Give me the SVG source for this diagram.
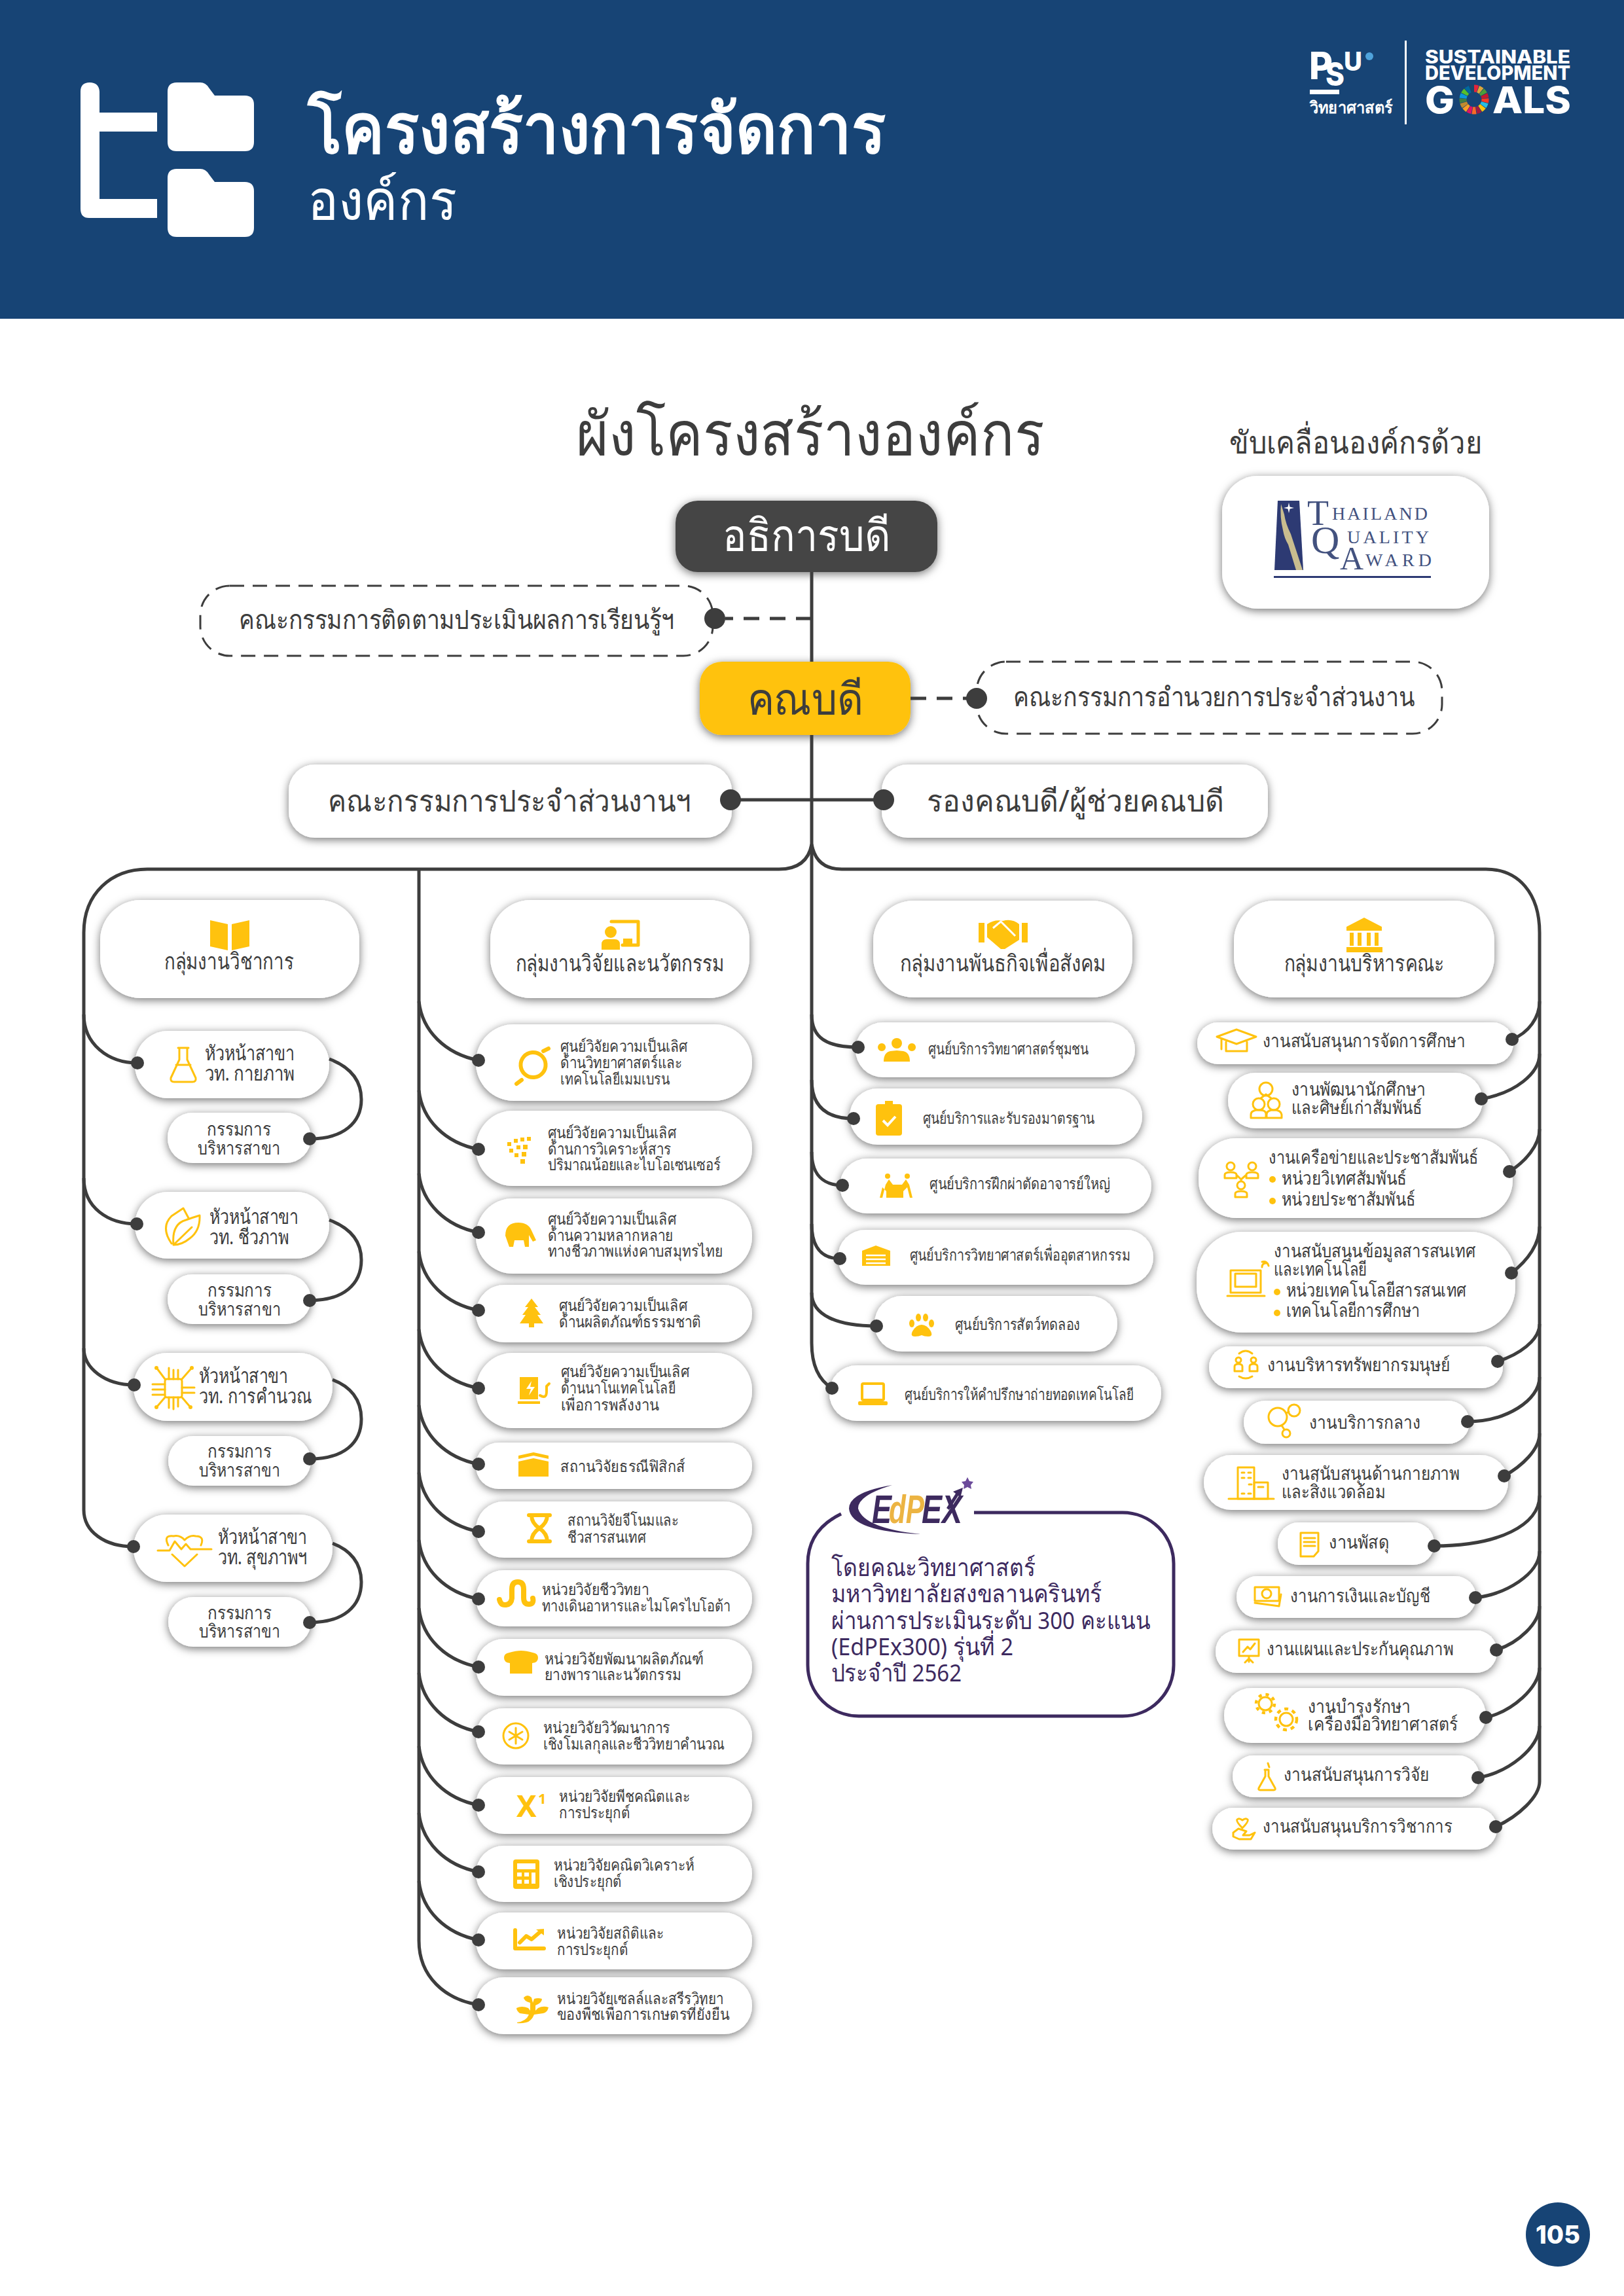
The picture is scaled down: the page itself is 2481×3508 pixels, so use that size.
<svg xmlns="http://www.w3.org/2000/svg" width="2481" height="3508" viewBox="0 0 2481 3508">
<style>
text{font-family:"Noto Sans","Liberation Sans",sans-serif;fill:#3d3d3d}
.c{text-anchor:middle}
.b{font-weight:700}
.k{font-family:Inter,"Noto Sans",sans-serif;font-weight:800;fill:#fff}
.w{fill:#fff}
.n{fill:#fff;filter:url(#sh)}
.y{fill:#FFC20E}
.yl{fill:none;stroke:#FFC20E;stroke-width:3;stroke-linejoin:round;stroke-linecap:round}
.s24{font-size:24px}
.s27{font-size:28px}
.s30{font-size:31px}
.s34{font-size:35px}
.s37{font-size:37px;fill:#3d2a5f}
.q{font-family:"Liberation Serif",serif;fill:#43527f}
.ep{font-family:"Liberation Sans",sans-serif;font-weight:700;font-style:italic;font-size:62px}
.ln{fill:none;stroke:#3d3d3d;stroke-width:5}
.dl{fill:none;stroke:#3d3d3d;stroke-width:5;stroke-dasharray:24 16}
.d{fill:#3d3d3d}
.p{fill:#3d2a5f}
</style>
<defs>
<filter id="sh" x="-15%" y="-30%" width="130%" height="160%"><feDropShadow dx="0" dy="3" stdDeviation="7" flood-color="#000" flood-opacity=".55"/></filter>
</defs>
<rect width="2481" height="3508" fill="#fff"/>
<g id="header">
<rect width="2481" height="487" fill="#174475"/>
<path class="w" d="M123 140q0-14 14-14t15 14v32h88v29h-88v103h88v29h-104q-13 0-13-14z"/>
<path class="w" d="M256 140q0-14 14-14h36q8 0 13 8l9 12h46q14 0 14 14v57q0 14-14 14h-104q-14 0-14-14z"/>
<path class="w" d="M256 272q0-14 14-14h36q8 0 13 8l9 12h46q14 0 14 14v56q0 14-14 14h-104q-14 0-14-14z"/>
<text class="w b" x="470" y="233" font-size="104" textLength="883" lengthAdjust="spacingAndGlyphs">โครงสร้างการจัดการ</text>
<text class="w" x="470" y="335" font-size="82" textLength="228" lengthAdjust="spacingAndGlyphs">องค์กร</text>
<text class="k" x="2000" y="121" font-size="58" textLength="36" lengthAdjust="spacingAndGlyphs">P</text>
<text class="k" x="2025" y="131" font-size="50" textLength="29" lengthAdjust="spacingAndGlyphs">S</text>
<text class="k" x="2053" y="108" font-size="39" textLength="28" lengthAdjust="spacingAndGlyphs">U</text>
<circle cx="2092" cy="86" r="6" fill="#4fa3dc"/>
<rect class="w" x="2001" y="137" width="45" height="7"/>
<text class="w b" x="2001" y="173" font-size="25" textLength="126" lengthAdjust="spacingAndGlyphs">วิทยาศาสตร์</text>
<rect class="w" x="2146" y="62" width="3" height="128"/>
<text class="k" x="2177" y="97" font-size="28" textLength="222" lengthAdjust="spacingAndGlyphs">SUSTAINABLE</text>
<text class="k" x="2177" y="122" font-size="30" textLength="222" lengthAdjust="spacingAndGlyphs">DEVELOPMENT</text>
<text class="k" x="2177" y="173" font-size="57" textLength="45" lengthAdjust="spacingAndGlyphs">G</text>
<text class="k" x="2280" y="173" font-size="57" textLength="120" lengthAdjust="spacingAndGlyphs">ALS</text>
<g id="sdg-wheel" fill="none" stroke-width="11" stroke-dasharray="5.6 101.2" transform="rotate(-90 2252 152)">
<circle cx="2252" cy="152" r="17" stroke="#e5243b"/>
<circle cx="2252" cy="152" r="17" stroke="#dda63a" stroke-dashoffset="-6.28"/>
<circle cx="2252" cy="152" r="17" stroke="#4c9f38" stroke-dashoffset="-12.56"/>
<circle cx="2252" cy="152" r="17" stroke="#c5192d" stroke-dashoffset="-18.84"/>
<circle cx="2252" cy="152" r="17" stroke="#ff3a21" stroke-dashoffset="-25.12"/>
<circle cx="2252" cy="152" r="17" stroke="#26bde2" stroke-dashoffset="-31.4"/>
<circle cx="2252" cy="152" r="17" stroke="#fcc30b" stroke-dashoffset="-37.68"/>
<circle cx="2252" cy="152" r="17" stroke="#a21942" stroke-dashoffset="-43.96"/>
<circle cx="2252" cy="152" r="17" stroke="#fd6925" stroke-dashoffset="-50.24"/>
<circle cx="2252" cy="152" r="17" stroke="#dd1367" stroke-dashoffset="-56.52"/>
<circle cx="2252" cy="152" r="17" stroke="#fd9d24" stroke-dashoffset="-62.8"/>
<circle cx="2252" cy="152" r="17" stroke="#bf8b2e" stroke-dashoffset="-69.08"/>
<circle cx="2252" cy="152" r="17" stroke="#3f7e44" stroke-dashoffset="-75.36"/>
<circle cx="2252" cy="152" r="17" stroke="#0a97d9" stroke-dashoffset="-81.64"/>
<circle cx="2252" cy="152" r="17" stroke="#56c02b" stroke-dashoffset="-87.92"/>
<circle cx="2252" cy="152" r="17" stroke="#00689d" stroke-dashoffset="-94.2"/>
<circle cx="2252" cy="152" r="17" stroke="#19486a" stroke-dashoffset="-100.48"/>
</g>
</g>
<text x="880" y="695" font-size="92" textLength="715" lengthAdjust="spacingAndGlyphs">ผังโครงสร้างองค์กร</text>
<text x="1878" y="693" font-size="48" textLength="386" lengthAdjust="spacingAndGlyphs">ขับเคลื่อนองค์กรด้วย</text>
<g id="tqa">
<rect class="n" x="1867" y="727" width="408" height="203" rx="55"/>
<path d="M1952 765h33l6 106h-44z" fill="#2d3a73"/>
<path d="M1957 770q-2 20 3 40 2 12 8 22l12 39h10l-18-55q-8-16-10-30z" fill="#c9bd8f"/>
<path d="M1969 768l1.500 6.500 6.500 1.500-6.500 1.500-1.500 6.500-1.500-6.500-6.500-1.500 6.500-1.500z" fill="#fff"/>
<text class="q" x="1997" y="802" font-size="54">T</text>
<text class="q" x="2035" y="794" font-size="28" textLength="146">HAILAND</text>
<text class="q" x="2003" y="845" font-size="60">Q</text>
<text class="q" x="2058" y="830" font-size="28" textLength="125">UALITY</text>
<text class="q" x="2047" y="870" font-size="50">A</text>
<text class="q" x="2086" y="865" font-size="28" textLength="101">WARD</text>
<rect x="1946" y="880" width="240" height="3" fill="#2d3a73"/>
</g>
<g id="dean-top"><rect x="1032" y="765" width="400" height="109" rx="34" fill="#444" filter="url(#sh)"/><text class="w c" x="1232" y="842" font-size="68" textLength="256" lengthAdjust="spacingAndGlyphs">อธิการบดี</text></g>
<g id="dean"><rect x="1069" y="1011" width="322" height="112" rx="34" fill="#FFC20E" filter="url(#sh)"/><text class="c" x="1230" y="1092" font-size="68" textLength="177" lengthAdjust="spacingAndGlyphs">คณบดี</text></g>
<g id="box-monitor"><rect x="306" y="895" width="783" height="107" rx="45" fill="#fff" stroke="#3d3d3d" stroke-width="3" stroke-dasharray="22 13"/><text x="365" y="961" font-size="40" textLength="665" lengthAdjust="spacingAndGlyphs">คณะกรรมการติดตามประเมินผลการเรียนรู้ฯ</text></g>
<g id="box-admin"><rect x="1492" y="1011" width="711" height="110" rx="45" fill="#fff" stroke="#3d3d3d" stroke-width="3" stroke-dasharray="22 13"/><text x="1548" y="1079" font-size="40" textLength="613" lengthAdjust="spacingAndGlyphs">คณะกรรมการอำนวยการประจำส่วนงาน</text></g>
<g id="box-committee"><rect class="n" x="441" y="1168" width="677" height="112" rx="40"/><text x="501" y="1240" font-size="46" textLength="555" lengthAdjust="spacingAndGlyphs">คณะกรรมการประจำส่วนงานฯ</text></g>
<g id="box-deputy"><rect class="n" x="1347" y="1168" width="590" height="112" rx="40"/><text x="1416" y="1240" font-size="46" textLength="454" lengthAdjust="spacingAndGlyphs">รองคณบดี/ผู้ช่วยคณบดี</text></g>

<g id="group-academic"><rect class="n" x="153" y="1375" width="396" height="150" rx="62"/>
<path class="y" d="M321 1406l27 6v40l-27-6zM381 1406l-27 6v40l27-6z"/>
<text class="c s34" x="350" y="1481" textLength="198" lengthAdjust="spacingAndGlyphs">กลุ่มงานวิชาการ</text></g>
<g id="group-research"><rect class="n" x="749" y="1375" width="396" height="150" rx="62"/>
<path class="yl" style="stroke-width:5" d="M934 1408h41v36h-24"/><circle class="y" cx="933" cy="1424" r="9"/><path class="y" d="M919 1451v-8q0-8 8-8h12q8 0 8 8v8zM952 1434h14v10h-14z"/>
<text class="c s34" x="947" y="1484" textLength="319" lengthAdjust="spacingAndGlyphs">กลุ่มงานวิจัยและนวัตกรรม</text></g>
<g id="group-social"><rect class="n" x="1334" y="1376" width="396" height="148" rx="62"/>
<path class="y" d="M1495 1410h9v30h-9zM1561 1410h9v30h-9zM1508 1412q12-8 24-5 14-4 25 5v24l-22 14h-6l-21-18z"/><path d="M1517 1418l12-10 22 22" fill="none" stroke="#fff" stroke-width="3"/>
<text class="c s34" x="1532" y="1484" textLength="315" lengthAdjust="spacingAndGlyphs">กลุ่มงานพันธกิจเพื่อสังคม</text></g>
<g id="group-admin"><rect class="n" x="1885" y="1376" width="398" height="148" rx="62"/>
<path class="y" d="M2084 1402l27 14v6h-54v-6zM2062 1425h6v20h-6zM2074 1425h6v20h-6zM2088 1425h6v20h-6zM2100 1425h6v20h-6zM2057 1447h55v8h-55z"/>
<text class="c s34" x="2084" y="1484" textLength="245" lengthAdjust="spacingAndGlyphs">กลุ่มงานบริหารคณะ</text></g>

<g id="head-physical"><rect class="n" x="206" y="1575" width="297" height="103" rx="51"/>
<path class="yl" d="M272 1601h16M274 1601v18l-13 28q-1 6 5 6h28q6 0 5-6l-13-28v-18M269 1627h22"/>
<text class="s30" x="313" y="1620" textLength="137" lengthAdjust="spacingAndGlyphs">หัวหน้าสาขา</text><text class="s30" x="313" y="1651" textLength="137" lengthAdjust="spacingAndGlyphs">วท. กายภาพ</text></g>
<g id="sub-physical"><rect class="n" x="256" y="1700" width="219" height="77" rx="38"/><text class="c s27" x="365" y="1735" textLength="98" lengthAdjust="spacingAndGlyphs">กรรมการ</text><text class="c s27" x="365" y="1764" textLength="126" lengthAdjust="spacingAndGlyphs">บริหารสาขา</text></g>
<g id="head-bio"><rect class="n" x="206" y="1821" width="297" height="102" rx="51"/>
<path class="yl" d="M265 1902Q262 1870 284 1864Q295 1860 305 1857Q306 1880 290 1892Q278 1902 265 1902ZM265 1902L293 1875M262 1900Q245 1875 262 1858L280 1846L288 1861"/>
<text class="s30" x="320" y="1870" textLength="136" lengthAdjust="spacingAndGlyphs">หัวหน้าสาขา</text><text class="s30" x="320" y="1901" textLength="121" lengthAdjust="spacingAndGlyphs">วท. ชีวภาพ</text></g>
<g id="sub-bio"><rect class="n" x="256" y="1947" width="219" height="76" rx="38"/><text class="c s27" x="366" y="1981" textLength="98" lengthAdjust="spacingAndGlyphs">กรรมการ</text><text class="c s27" x="366" y="2010" textLength="126" lengthAdjust="spacingAndGlyphs">บริหารสาขา</text></g>
<g id="head-comp"><rect class="n" x="204" y="2067" width="304" height="104" rx="52"/>
<g transform="translate(0 -5)"><rect class="yl" x="252" y="2112" width="26" height="28" rx="3"/><path class="yl" d="M233 2120h19M233 2128h19M233 2136h19M278 2125h19M278 2133h19M258 2112v-17M265 2112v-14M272 2112v-14M258 2140v16M265 2140v18M272 2140v14M252 2112l-12-16M278 2112l14-16M252 2140l-12 14M278 2140l12 14"/><circle class="y" cx="239" cy="2095" r="3"/><circle class="y" cx="293" cy="2095" r="3"/><circle class="y" cx="239" cy="2155" r="3"/><circle class="y" cx="291" cy="2155" r="3"/></g>
<text class="s30" x="304" y="2113" textLength="136" lengthAdjust="spacingAndGlyphs">หัวหน้าสาขา</text><text class="s30" x="304" y="2144" textLength="173" lengthAdjust="spacingAndGlyphs">วท. การคำนวณ</text></g>
<g id="sub-comp"><rect class="n" x="257" y="2194" width="218" height="76" rx="38"/><text class="c s27" x="366" y="2227" textLength="98" lengthAdjust="spacingAndGlyphs">กรรมการ</text><text class="c s27" x="366" y="2256" textLength="124" lengthAdjust="spacingAndGlyphs">บริหารสาขา</text></g>
<g id="head-health"><rect class="n" x="204" y="2314" width="304" height="103" rx="51"/>
<path class="yl" transform="translate(0 -23)" d="M241 2392h18l8-14 10 12 7-8 7 8h32M257 2384q-8-16 8-14 10-2 17 6 8-8 17-6 14 0 8 14M263 2398l19 18 19-18"/>
<text class="s30" x="333" y="2359" textLength="136" lengthAdjust="spacingAndGlyphs">หัวหน้าสาขา</text><text class="s30" x="333" y="2390" textLength="136" lengthAdjust="spacingAndGlyphs">วท. สุขภาพฯ</text></g>
<g id="sub-health"><rect class="n" x="257" y="2440" width="218" height="76" rx="38"/><text class="c s27" x="366" y="2474" textLength="98" lengthAdjust="spacingAndGlyphs">กรรมการ</text><text class="c s27" x="366" y="2502" textLength="124" lengthAdjust="spacingAndGlyphs">บริหารสาขา</text></g>

<g id="r1"><rect class="n" x="727" y="1565" width="422" height="117" rx="58"/><path class="yl" style="stroke-width:6" d="M813 1608a18 18 0 1 0 3 38 18 18 0 1 0-3-38M797 1650l-8 6M830 1606l8-4"/><text class="s24" x="856" y="1607" textLength="194" lengthAdjust="spacingAndGlyphs">ศูนย์วิจัยความเป็นเลิศ</text><text class="s24" x="856" y="1632" textLength="186" lengthAdjust="spacingAndGlyphs">ด้านวิทยาศาสตร์และ</text><text class="s24" x="856" y="1657" textLength="167" lengthAdjust="spacingAndGlyphs">เทคโนโลยีเมมเบรน</text></g>
<g id="r2"><rect class="n" x="727" y="1697" width="422" height="115" rx="57"/><g class="y"><rect x="775" y="1745" width="6" height="6"/><rect x="785" y="1740" width="6" height="6"/><rect x="795" y="1738" width="6" height="6"/><rect x="805" y="1737" width="6" height="6"/><rect x="778" y="1755" width="6" height="6"/><rect x="789" y="1750" width="6" height="6"/><rect x="799" y="1749" width="7" height="7"/><rect x="786" y="1762" width="6" height="6"/><rect x="797" y="1760" width="7" height="7"/><rect x="795" y="1771" width="7" height="7"/></g><text class="s24" x="837" y="1739" textLength="196" lengthAdjust="spacingAndGlyphs">ศูนย์วิจัยความเป็นเลิศ</text><text class="s24" x="837" y="1764" textLength="188" lengthAdjust="spacingAndGlyphs">ด้านการวิเคราะห์สาร</text><text class="s24" x="837" y="1788" textLength="264" lengthAdjust="spacingAndGlyphs">ปริมาณน้อยและไบโอเซนเซอร์</text></g>
<g id="r3"><rect class="n" x="727" y="1831" width="422" height="115" rx="57"/><path class="y" d="M772 1888q0-20 20-20 15 0 20 12l7 15-5 2-6-10v18h-6l-2-10h-14l-2 10h-6z"/><text class="s24" x="837" y="1871" textLength="196" lengthAdjust="spacingAndGlyphs">ศูนย์วิจัยความเป็นเลิศ</text><text class="s24" x="837" y="1896" textLength="191" lengthAdjust="spacingAndGlyphs">ด้านความหลากหลาย</text><text class="s24" x="837" y="1920" textLength="267" lengthAdjust="spacingAndGlyphs">ทางชีวภาพแห่งคาบสมุทรไทย</text></g>
<g id="r4"><rect class="n" x="727" y="1963" width="422" height="88" rx="44"/><path class="y" d="M812 1984l10 13h-5l9 12h-5l9 13h-14v6h-8v-6h-14l9-13h-5l9-12h-5z"/><text class="s24" x="854" y="2003" textLength="196" lengthAdjust="spacingAndGlyphs">ศูนย์วิจัยความเป็นเลิศ</text><text class="s24" x="854" y="2028" textLength="217" lengthAdjust="spacingAndGlyphs">ด้านผลิตภัณฑ์ธรรมชาติ</text></g>
<g id="r5"><rect class="n" x="727" y="2067" width="422" height="115" rx="57"/><path class="y" d="M794 2104h28v34h-28zM791 2141h34v4h-34z"/><path d="M812 2110l-8 12h7l-3 10 9-13h-7z" fill="#fff"/><path class="yl" style="stroke-width:4" d="M825 2132q10 6 10-6v-8l4-4"/><text class="s24" x="857" y="2104" textLength="196" lengthAdjust="spacingAndGlyphs">ศูนย์วิจัยความเป็นเลิศ</text><text class="s24" x="857" y="2129" textLength="175" lengthAdjust="spacingAndGlyphs">ด้านนาโนเทคโนโลยี</text><text class="s24" x="857" y="2155" textLength="150" lengthAdjust="spacingAndGlyphs">เพื่อการพลังงาน</text></g>
<g id="r6"><rect class="n" x="727" y="2204" width="422" height="71" rx="35"/><path class="y" d="M792 2224l23-5 23 5v5l-23-5-23 5zM792 2233l23-5 23 5v23h-46z"/><text class="s24" x="856" y="2249" textLength="191" lengthAdjust="spacingAndGlyphs">สถานวิจัยธรณีฟิสิกส์</text></g>
<g id="r7"><rect class="n" x="727" y="2294" width="422" height="86" rx="43"/><path class="yl" style="stroke-width:6" d="M808 2315h32M808 2355h32M812 2315q0 12 12 20 12 8 12 20M836 2315q0 12-12 20-12 8-12 20"/><text class="s24" x="867" y="2331" textLength="170" lengthAdjust="spacingAndGlyphs">สถานวิจัยจีโนมและ</text><text class="s24" x="867" y="2357" textLength="120" lengthAdjust="spacingAndGlyphs">ชีวสารสนเทศ</text></g>
<g id="r8"><rect class="n" x="727" y="2399" width="422" height="86" rx="43"/><path class="yl" style="stroke-width:8" d="M763 2444q2 9 10 8t9-10v-14q0-11 9-11t9 11v13q0 10 8 10t6-9"/><text class="s24" x="828" y="2437" textLength="163" lengthAdjust="spacingAndGlyphs">หน่วยวิจัยชีววิทยา</text><text class="s24" x="828" y="2462" textLength="288" lengthAdjust="spacingAndGlyphs">ทางเดินอาหารและไมโครไบโอต้า</text></g>
<g id="r9"><rect class="n" x="727" y="2504" width="422" height="87" rx="43"/><path class="y" d="M770 2533q0-7 8-8 10-3 18-3t18 3q8 1 8 8 0 7-9 8v16h-34v-16q-9-1-9-8z"/><text class="s24" x="832" y="2543" textLength="243" lengthAdjust="spacingAndGlyphs">หน่วยวิจัยพัฒนาผลิตภัณฑ์</text><text class="s24" x="832" y="2567" textLength="209" lengthAdjust="spacingAndGlyphs">ยางพาราและนวัตกรรม</text></g>
<g id="r10"><rect class="n" x="727" y="2610" width="422" height="86" rx="43"/><circle class="yl" cx="788" cy="2652" r="19"/><path class="yl" d="M788 2640v24M778 2646l20 12M798 2646l-20 12"/><text class="s24" x="830" y="2648" textLength="194" lengthAdjust="spacingAndGlyphs">หน่วยวิจัยวิวัฒนาการ</text><text class="s24" x="830" y="2673" textLength="277" lengthAdjust="spacingAndGlyphs">เชิงโมเลกุลและชีววิทยาคำนวณ</text></g>
<g id="r11"><rect class="n" x="727" y="2715" width="422" height="87" rx="43"/><text class="b" x="789" y="2776" font-size="46" style="fill:#FFC20E">X</text><text class="b" x="822" y="2756" font-size="22" style="fill:#FFC20E">1</text><text class="s24" x="854" y="2753" textLength="200" lengthAdjust="spacingAndGlyphs">หน่วยวิจัยพีชคณิตและ</text><text class="s24" x="854" y="2778" textLength="109" lengthAdjust="spacingAndGlyphs">การประยุกต์</text></g>
<g id="r12"><rect class="n" x="727" y="2820" width="422" height="86" rx="43"/><rect class="y" x="784" y="2841" width="40" height="45" rx="4"/><path d="M790 2847h28v9h-28zM790 2861h7v6h-7zM801 2861h7v6h-7zM790 2872h7v6h-7zM801 2872h7v6h-7zM812 2861h6v17h-6z" fill="#fff"/><text class="s24" x="846" y="2858" textLength="215" lengthAdjust="spacingAndGlyphs">หน่วยวิจัยคณิตวิเคราะห์</text><text class="s24" x="846" y="2883" textLength="104" lengthAdjust="spacingAndGlyphs">เชิงประยุกต์</text></g>
<g id="r13"><rect class="n" x="727" y="2922" width="422" height="87" rx="43"/><path class="yl" style="stroke-width:6" d="M787 2949v28h44M794 2968l10-10 8 5 14-12"/><path class="y" d="M819 2948l12-1v10z"/><text class="s24" x="851" y="2962" textLength="163" lengthAdjust="spacingAndGlyphs">หน่วยวิจัยสถิติและ</text><text class="s24" x="851" y="2987" textLength="109" lengthAdjust="spacingAndGlyphs">การประยุกต์</text></g>
<g id="r14"><rect class="n" x="727" y="3021" width="422" height="87" rx="43"/><path class="y" d="M790 3090q14-2 18-12l-14-2q-5-4-5-8 8-4 18 0l3 4v-12q-10-3-10-8 6-6 12 0l2 8 2-6q6-2 12 0 0 6-10 10v8l4-4q8-4 16-1-2 8-8 9l-14 2q-4 10-12 12-8 2-14 1z"/><text class="s24" x="851" y="3062" textLength="254" lengthAdjust="spacingAndGlyphs">หน่วยวิจัยเซลล์และสรีรวิทยา</text><text class="s24" x="851" y="3086" textLength="263" lengthAdjust="spacingAndGlyphs">ของพืชเพื่อการเกษตรที่ยั่งยืน</text></g>

<g id="s1"><rect class="n" x="1307" y="1562" width="427" height="84" rx="42"/><path class="y" d="M1350 1622q0-14 10-16l10-1 10 1q10 2 10 16zM1347 1606a6 6 0 1 1 .1 0M1393 1606a6 6 0 1 1 .1 0"/><circle class="y" cx="1370" cy="1594" r="8"/><text class="s24" x="1418" y="1611" textLength="245" lengthAdjust="spacingAndGlyphs">ศูนย์บริการวิทยาศาสตร์ชุมชน</text></g>
<g id="s2"><rect class="n" x="1298" y="1663" width="447" height="86" rx="43"/><rect class="y" x="1338" y="1687" width="40" height="48" rx="4"/><rect class="y" x="1352" y="1682" width="12" height="8"/><path d="M1349 1712l7 7 12-13" fill="none" stroke="#fff" stroke-width="4"/><text class="s24" x="1410" y="1717" textLength="262" lengthAdjust="spacingAndGlyphs">ศูนย์บริการและรับรองมาตรฐาน</text></g>
<g id="s3"><rect class="n" x="1283" y="1770" width="476" height="84" rx="42"/><circle class="y" cx="1356" cy="1797" r="4"/><circle class="y" cx="1386" cy="1797" r="4"/><path class="y" d="M1348 1830l5-20 5-8 6 8h14l6-8 5 8 5 20h-4l-4-16-6 6v10h-26v-10l-6-6-4 16z"/><text class="s24" x="1420" y="1817" textLength="276" lengthAdjust="spacingAndGlyphs">ศูนย์บริการฝึกผ่าตัดอาจารย์ใหญ่</text></g>
<g id="s4"><rect class="n" x="1280" y="1879" width="482" height="84" rx="42"/><path class="y" d="M1317 1911l21-8 22 8v23h-43z"/><path d="M1323 1918h30M1323 1924h30M1323 1930h30" stroke="#fff" stroke-width="2.500"/><text class="s24" x="1390" y="1926" textLength="337" lengthAdjust="spacingAndGlyphs">ศูนย์บริการวิทยาศาสตร์เพื่ออุตสาหกรรม</text></g>
<g id="s5"><rect class="n" x="1336" y="1980" width="371" height="85" rx="42"/><path class="y" d="M1408 2024q8 0 14 10 4 8-4 8-6 0-10-2-4 2-10 2-8 0-4-8 6-10 14-10z"/><ellipse class="y" cx="1393" cy="2022" rx="4" ry="6"/><ellipse class="y" cx="1403" cy="2013" rx="4" ry="6"/><ellipse class="y" cx="1414" cy="2013" rx="4" ry="6"/><ellipse class="y" cx="1423" cy="2022" rx="4" ry="6"/><text class="s24" x="1459" y="2032" textLength="191" lengthAdjust="spacingAndGlyphs">ศูนย์บริการสัตว์ทดลอง</text></g>
<g id="s6"><rect class="n" x="1267" y="2086" width="507" height="85" rx="42"/><rect class="yl" style="stroke-width:4" x="1317" y="2114" width="33" height="25" rx="2"/><rect class="y" x="1311" y="2141" width="45" height="6" rx="2"/><text class="s24" x="1382" y="2139" textLength="350" lengthAdjust="spacingAndGlyphs">ศูนย์บริการให้คำปรึกษาถ่ายทอดเทคโนโลยี</text></g>

<g id="a1"><rect class="n" x="1829" y="1562" width="483" height="64" rx="32"/><path class="yl" d="M1859 1584l30-11 30 11-30 11zM1873 1592v14h32v-14M1866 1587v16"/><text class="s27" x="1929" y="1600" textLength="310" lengthAdjust="spacingAndGlyphs">งานสนับสนุนการจัดการศึกษา</text></g>
<g id="a2"><rect class="n" x="1876" y="1639" width="389" height="85" rx="42"/><g class="yl"><circle cx="1934" cy="1664" r="10"/><circle cx="1923" cy="1687" r="9"/><circle cx="1946" cy="1687" r="9"/><path d="M1911 1708v-5q0-7 12-7t11 7v5zM1935 1708v-5q0-7 11-7t12 7v5zM1926 1678l8-6 8 6"/></g><text class="s27" x="1973" y="1674" textLength="205" lengthAdjust="spacingAndGlyphs">งานพัฒนานักศึกษา</text><text class="s27" x="1973" y="1702" textLength="200" lengthAdjust="spacingAndGlyphs">และศิษย์เก่าสัมพันธ์</text></g>
<g id="a3"><rect class="n" x="1831" y="1739" width="480" height="122" rx="58"/><g class="yl"><circle cx="1880" cy="1782" r="6"/><circle cx="1913" cy="1782" r="6"/><circle cx="1896" cy="1811" r="6"/><path d="M1871 1800v-5q0-4 9-4t9 4v5zM1904 1800v-5q0-4 9-4t9 4v5zM1887 1829v-5q0-4 9-4t9 4v5zM1889 1795l7 7 8-7M1896 1802v2"/></g><text class="s27" x="1938" y="1778" textLength="320" lengthAdjust="spacingAndGlyphs">งานเครือข่ายและประชาสัมพันธ์</text><circle class="y" cx="1944" cy="1802" r="5"/><text class="s27" x="1958" y="1810" textLength="191" lengthAdjust="spacingAndGlyphs">หน่วยวิเทศสัมพันธ์</text><circle class="y" cx="1944" cy="1835" r="5"/><text class="s27" x="1958" y="1842" textLength="204" lengthAdjust="spacingAndGlyphs">หน่วยประชาสัมพันธ์</text></g>
<g id="a4"><rect class="n" x="1828" y="1882" width="487" height="154" rx="70"/><g class="yl"><rect x="1880" y="1941" width="46" height="34"/><rect x="1887" y="1946" width="32" height="20"/><path d="M1875 1980h57M1928 1936q0-6 6-6M1928 1928q8-2 10 6"/></g><text class="s27" x="1946" y="1921" textLength="308" lengthAdjust="spacingAndGlyphs">งานสนับสนุนข้อมูลสารสนเทศ</text><text class="s27" x="1946" y="1949" textLength="142" lengthAdjust="spacingAndGlyphs">และเทคโนโลยี</text><circle class="y" cx="1951" cy="1974" r="5"/><text class="s27" x="1965" y="1981" textLength="275" lengthAdjust="spacingAndGlyphs">หน่วยเทคโนโลยีสารสนเทศ</text><circle class="y" cx="1951" cy="2006" r="5"/><text class="s27" x="1965" y="2012" textLength="204" lengthAdjust="spacingAndGlyphs">เทคโนโลยีการศึกษา</text></g>
<g id="a5"><rect class="n" x="1847" y="2057" width="449" height="64" rx="32"/><g class="yl"><circle cx="1892" cy="2078" r="4"/><circle cx="1915" cy="2078" r="4"/><path d="M1886 2095v-7q0-4 6-4t6 4v7zM1909 2095v-7q0-4 6-4t6 4v7zM1893 2068q10-8 20 0M1893 2103q10 6 20 0"/></g><text class="s27" x="1936" y="2095" textLength="279" lengthAdjust="spacingAndGlyphs">งานบริหารทรัพยากรมนุษย์</text></g>
<g id="a6"><rect class="n" x="1900" y="2140" width="345" height="66" rx="33"/><g class="yl"><circle cx="1952" cy="2165" r="14"/><circle cx="1977" cy="2155" r="9"/><circle cx="1965" cy="2190" r="6"/><path d="M1965 2159l4-2M1958 2178l4 6"/></g><text class="s27" x="2000" y="2183" textLength="170" lengthAdjust="spacingAndGlyphs">งานบริการกลาง</text></g>
<g id="a7"><rect class="n" x="1839" y="2223" width="465" height="84" rx="42"/><g class="yl"><rect x="1891" y="2242" width="25" height="48"/><rect x="1916" y="2265" width="21" height="25"/><path d="M1877 2290h69M1897 2250h4M1907 2250h4M1897 2258h4M1907 2258h4M1908 2268h4M1922 2272h8M1897 2282h4M1907 2282h4"/></g><text class="s27" x="1958" y="2261" textLength="272" lengthAdjust="spacingAndGlyphs">งานสนับสนุนด้านกายภาพ</text><text class="s27" x="1958" y="2289" textLength="158" lengthAdjust="spacingAndGlyphs">และสิ่งแวดล้อม</text></g>
<g id="a8"><rect class="n" x="1952" y="2326" width="239" height="65" rx="32"/><path class="yl" d="M1987 2342h27v28l-7 8h-20zM1992 2350h17M1992 2356h17M1992 2362h17"/><text class="s27" x="2030" y="2366" textLength="92" lengthAdjust="spacingAndGlyphs">งานพัสดุ</text></g>
<g id="a9"><rect class="n" x="1889" y="2408" width="366" height="64" rx="32"/><g class="yl"><rect x="1917" y="2425" width="37" height="21"/><circle cx="1935" cy="2435" r="7"/><path d="M1917 2449l37 5 3-18"/></g><text class="s27" x="1971" y="2448" textLength="214" lengthAdjust="spacingAndGlyphs">งานการเงินและบัญชี</text></g>
<g id="a10"><rect class="n" x="1857" y="2491" width="430" height="65" rx="32"/><path class="yl" d="M1893 2505h30v25h-30zM1899 2524l7-8 4 4 7-9M1908 2530v9M1908 2534l-6 6M1908 2534l6 6"/><text class="s27" x="1935" y="2529" textLength="285" lengthAdjust="spacingAndGlyphs">งานแผนและประกันคุณภาพ</text></g>
<g id="a11"><rect class="n" x="1870" y="2579" width="400" height="84" rx="42"/><g fill="none" stroke="#FFC20E"><circle cx="1933" cy="2603" r="10" stroke-width="3"/><circle cx="1933" cy="2603" r="14" stroke-width="4.500" stroke-dasharray="5 6"/><circle cx="1965" cy="2627" r="10" stroke-width="3"/><circle cx="1965" cy="2627" r="16" stroke-width="4.500" stroke-dasharray="6 6"/></g><text class="s27" x="1998" y="2617" textLength="157" lengthAdjust="spacingAndGlyphs">งานบำรุงรักษา</text><text class="s27" x="1998" y="2644" textLength="229" lengthAdjust="spacingAndGlyphs">เครื่องมือวิทยาศาสตร์</text></g>
<g id="a12"><rect class="n" x="1883" y="2682" width="377" height="64" rx="32"/><path class="yl" d="M1932 2704h6M1933 2704v10l-10 18q-1 3 2 3h21q3 0 2-3l-10-18v-10M1939 2700l-2-6"/><text class="s27" x="1961" y="2721" textLength="222" lengthAdjust="spacingAndGlyphs">งานสนับสนุนการวิจัย</text></g>
<g id="a13"><rect class="n" x="1852" y="2762" width="435" height="64" rx="32"/><path class="yl" d="M1898 2793q-10-10-8-13 3-3 8 1 5-4 8-1 2 3-8 13zM1884 2800l8-6 12 4-5 6h10l8-4-6 10h-18l-9-4z"/><text class="s27" x="1929" y="2800" textLength="290" lengthAdjust="spacingAndGlyphs">งานสนับสนุนบริการวิชาการ</text></g>

<g id="edpex">
<path d="M1488 2311H1715a78 78 0 0 1 78 78V2544a78 78 0 0 1-78 78H1312a78 78 0 0 1-78-78V2389Q1234 2338 1285 2313" fill="none" stroke="#3d2a5f" stroke-width="5"/>
<path class="p" d="M1363 2269Q1297 2280 1297 2305Q1300 2340 1407 2344Q1320 2335 1311 2305Q1310 2285 1363 2269Z"/>
<text class="p ep" x="1332" y="2327" textLength="30" lengthAdjust="spacingAndGlyphs">E</text>
<text class="ep" x="1358" y="2327" style="fill:#ecb442" textLength="54" lengthAdjust="spacingAndGlyphs">dP</text>
<text class="p ep" x="1408" y="2327" textLength="62" lengthAdjust="spacingAndGlyphs">EX</text>
<path d="M1478 2257l3 6 6 1-4 5 1 6-6-3-6 3 1-6-4-5 6-1z" fill="#6b4a9a"/>
<path class="p" d="M1471 2273l-4 16-3-4-14 22-4-3 14-22-4-3z"/>
<text class="s37" x="1270" y="2408" textLength="312" lengthAdjust="spacingAndGlyphs">โดยคณะวิทยาศาสตร์</text>
<text class="s37" x="1270" y="2448" textLength="413" lengthAdjust="spacingAndGlyphs">มหาวิทยาลัยสงขลานครินทร์</text>
<text class="s37" x="1270" y="2489" textLength="487" lengthAdjust="spacingAndGlyphs">ผ่านการประเมินระดับ 300 คะแนน</text>
<text class="s37" x="1270" y="2529" textLength="278" lengthAdjust="spacingAndGlyphs">(EdPEx300) รุ่นที่ 2</text>
<text class="s37" x="1270" y="2569" textLength="199" lengthAdjust="spacingAndGlyphs">ประจำปี 2562</text>
</g>

<g id="connectors">
<path class="ln" d="M1240 874V1011M1240 1123V1290M1116 1222H1350"/>
<path class="dl" d="M1240 945H1108M1391 1067H1492"/>
<path class="ln" d="M128 2307V1425C128 1365 170 1328 225 1328H1190Q1233 1328 1240 1290Q1247 1328 1286 1328H2270C2320 1328 2352 1365 2352 1425V2722"/>
<path class="ln" d="M1240 1290V2052M640 1326V2965"/>
<path class="ln" d="M128 1550C128 1595 165 1624 210 1624M128 1800C128 1845 165 1870 209 1870M128 2060C128 2090 160 2116 205 2116M128 2307C128 2340 160 2363 204 2363"/>
<path class="ln" d="M503 1618C535 1630 552 1650 552 1680C552 1715 525 1740 473 1740M503 1864C535 1876 552 1896 552 1925C552 1962 525 1987 473 1987M508 2108C535 2118 552 2138 552 2168C552 2205 525 2229 473 2229M508 2358C535 2368 552 2388 552 2417C552 2454 525 2479 473 2479"/>
<path class="ln" d="M640 1530C645 1575 680 1610 731 1620M640 1666C645 1711 680 1746 731 1756M640 1793C645 1838 680 1873 731 1883M640 1912C645 1957 680 1992 731 2002M640 2031C645 2076 680 2111 731 2121M640 2147C645 2192 680 2227 731 2237M640 2250C645 2295 680 2330 731 2340M640 2353C645 2398 680 2433 731 2443M640 2457C645 2502 680 2537 731 2547M640 2556C645 2601 680 2636 731 2646M640 2668C645 2713 680 2748 731 2758M640 2770C645 2815 680 2850 731 2860M640 2874C645 2919 680 2954 731 2964M640 2965C640 3020 680 3055 731 3063"/>
<path class="ln" d="M1240 1550C1240 1585 1262 1600 1311 1600M1240 1650C1240 1690 1262 1709 1304 1709M1240 1760C1240 1795 1258 1811 1287 1811M1240 1870C1240 1905 1255 1923 1283 1923M1240 1975C1240 2010 1280 2026 1339 2026M1240 2052C1240 2085 1250 2108 1271 2121"/>
<path class="ln" d="M2352 1530C2352 1555 2335 1578 2310 1588M2352 1610C2352 1640 2315 1670 2263 1679M2352 1725C2352 1750 2330 1775 2306 1790M2352 1874C2352 1900 2335 1925 2309 1945M2352 2023C2352 2048 2320 2070 2288 2080M2352 2104C2352 2140 2300 2172 2242 2172M2352 2190C2352 2215 2325 2240 2298 2255M2352 2285C2352 2330 2290 2362 2191 2362M2352 2370C2352 2405 2300 2436 2254 2441M2352 2454C2352 2480 2320 2510 2286 2521M2352 2548C2352 2578 2310 2615 2270 2624M2352 2637C2352 2670 2305 2708 2258 2716M2352 2722C2352 2745 2320 2775 2285 2791"/>
<g class="d">
<circle cx="1092" cy="945" r="16"/><circle cx="1492" cy="1067" r="16"/><circle cx="1116" cy="1222" r="16"/><circle cx="1350" cy="1222" r="16"/>
<circle cx="210" cy="1624" r="10"/><circle cx="209" cy="1870" r="10"/><circle cx="205" cy="2116" r="10"/><circle cx="204" cy="2363" r="10"/>
<circle cx="473" cy="1740" r="10"/><circle cx="473" cy="1987" r="10"/><circle cx="473" cy="2229" r="10"/><circle cx="473" cy="2479" r="10"/>
<circle cx="731" cy="1620" r="10"/><circle cx="731" cy="1756" r="10"/><circle cx="731" cy="1883" r="10"/><circle cx="731" cy="2002" r="10"/><circle cx="731" cy="2121" r="10"/><circle cx="731" cy="2237" r="10"/><circle cx="731" cy="2340" r="10"/><circle cx="731" cy="2443" r="10"/><circle cx="731" cy="2547" r="10"/><circle cx="731" cy="2646" r="10"/><circle cx="731" cy="2758" r="10"/><circle cx="731" cy="2860" r="10"/><circle cx="731" cy="2964" r="10"/><circle cx="731" cy="3063" r="10"/>
<circle cx="1311" cy="1600" r="10"/><circle cx="1304" cy="1709" r="10"/><circle cx="1287" cy="1811" r="10"/><circle cx="1283" cy="1923" r="10"/><circle cx="1339" cy="2026" r="10"/><circle cx="1271" cy="2121" r="10"/>
<circle cx="2310" cy="1588" r="10"/><circle cx="2263" cy="1679" r="10"/><circle cx="2306" cy="1790" r="10"/><circle cx="2309" cy="1945" r="10"/><circle cx="2288" cy="2080" r="10"/><circle cx="2242" cy="2172" r="10"/><circle cx="2298" cy="2255" r="10"/><circle cx="2191" cy="2362" r="10"/><circle cx="2254" cy="2441" r="10"/><circle cx="2286" cy="2521" r="10"/><circle cx="2270" cy="2624" r="10"/><circle cx="2258" cy="2716" r="10"/><circle cx="2285" cy="2791" r="10"/>
</g>
</g>
<g id="page-number"><circle cx="2380" cy="3414" r="49" fill="#174475"/><text class="k c" x="2380" y="3428" font-size="38">105</text></g>
</svg>
